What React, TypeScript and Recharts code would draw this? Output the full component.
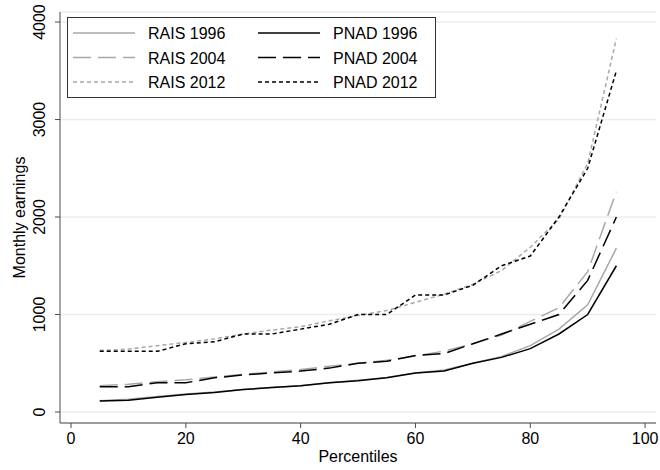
import React from 'react';
import { LineChart, Line, XAxis, YAxis, CartesianGrid, Legend } from 'recharts';

const percentiles = [5, 10, 15, 20, 25, 30, 35, 40, 45, 50, 55, 60, 65, 70, 75, 80, 85, 90, 95];

const rais1996 = [115, 130, 160, 185, 205, 230, 250, 270, 300, 325, 355, 400, 430, 500, 570, 680, 850, 1100, 1680];
const pnad1996 = [112, 120, 150, 180, 200, 230, 250, 270, 300, 320, 350, 400, 420, 500, 560, 650, 800, 1000, 1500];
const rais2004 = [270, 285, 310, 330, 360, 385, 410, 435, 470, 500, 530, 575, 625, 700, 790, 930, 1070, 1440, 2260];
const pnad2004 = [260, 260, 300, 300, 350, 380, 400, 420, 450, 500, 520, 580, 600, 700, 800, 900, 1000, 1350, 2000];
const rais2012 = [630, 645, 680, 713, 750, 800, 840, 875, 935, 990, 1040, 1125, 1210, 1310, 1450, 1690, 1980, 2550, 3830];
const pnad2012 = [622, 622, 622, 700, 720, 800, 800, 850, 900, 1000, 1000, 1200, 1200, 1300, 1500, 1600, 2000, 2500, 3500];

const xTicks = [0, 20, 40, 60, 80, 100];
const yTicks = [0, 1000, 2000, 3000, 4000];

const data = percentiles.map((p, i) => ({
  p,
  rais1996: rais1996[i],
  pnad1996: pnad1996[i],
  rais2004: rais2004[i],
  pnad2004: pnad2004[i],
  rais2012: rais2012[i],
  pnad2012: pnad2012[i],
}));

const FONT = '"Liberation Sans", Arial, sans-serif';
const GRAY = '#a8a8a8';
const AXIS = '#4a4a4a';

// legend order follows the reference (two columns, row by row)
const series = [
  { key: 'rais1996', name: 'RAIS 1996', color: GRAY, dash: undefined },
  { key: 'pnad1996', name: 'PNAD 1996', color: '#000', dash: undefined },
  { key: 'rais2004', name: 'RAIS 2004', color: GRAY, dash: '18 7' },
  { key: 'pnad2004', name: 'PNAD 2004', color: '#000', dash: '18 7' },
  { key: 'rais2012', name: 'RAIS 2012', color: GRAY, dash: '4 3' },
  { key: 'pnad2012', name: 'PNAD 2012', color: '#000', dash: '4 3' },
];

const XTick = (props: any) => {
  const { x, y, payload } = props;
  return (
    <text x={x} y={y + 14} textAnchor="middle" fontSize={16} fontFamily={FONT} fill="#000">
      {payload.value}
    </text>
  );
};

const YTick = (props: any) => {
  const { x, y, payload } = props;
  const bx = x - 8;
  return (
    <text x={bx} y={y} transform={`rotate(-90 ${bx} ${y})`} textAnchor="middle" fontSize={16} fontFamily={FONT} fill="#000">
      {payload.value}
    </text>
  );
};

const renderLegend = () => (
  <svg width={369} height={81} style={{ display: 'block' }}>
    <rect x={0.5} y={0.5} width={368} height={80} fill="#fff" stroke="#333" strokeWidth={1} />
    {series.map((s, i) => {
      const col = i % 2;
      const row = Math.floor(i / 2);
      const cy = 16 + row * 24.5;
      const lx = col === 0 ? 6 : 191;
      const tx = col === 0 ? 81 : 266;
      return (
        <g key={s.key}>
          <line x1={lx} x2={lx + 62} y1={cy} y2={cy} stroke={s.color} strokeWidth={1.5} strokeDasharray={s.dash} />
          <text x={tx} y={cy + 6} fontSize={16} fontFamily={FONT} fill="#000">
            {s.name}
          </text>
        </g>
      );
    })}
  </svg>
);

export default function App() {
  return (
    <div style={{ position: 'absolute', left: 0, top: 0 }}>
      <LineChart width={660} height={470} data={data} margin={{ top: 12, right: 4, bottom: 0, left: 0 }}>
        <CartesianGrid vertical={false} stroke="#e6eff0" strokeWidth={1.5} />
        <XAxis
          dataKey="p"
          type="number"
          domain={[-1.92, 101.9]}
          allowDataOverflow
          ticks={xTicks}
          height={47}
          tickSize={5}
          stroke={AXIS}
          tick={<XTick />}
          label={(props: any) => {
            const vb = props.viewBox || { x: 60, width: 596, y: 423, height: 47 };
            return (
              <text x={vb.x + vb.width / 2} y={vb.y + vb.height - 8} textAnchor="middle" fontSize={16} fontFamily={FONT} fill="#000">
                Percentiles
              </text>
            );
          }}
        />
        <YAxis
          type="number"
          domain={[-113, 4103]}
          allowDataOverflow
          ticks={yTicks}
          width={60}
          tickSize={5}
          stroke={AXIS}
          tick={<YTick />}
          label={(props: any) => {
            const vb = props.viewBox || { x: 0, width: 60, y: 12, height: 411 };
            const cy = vb.y + vb.height / 2;
            return (
              <text x={25} y={cy} transform={`rotate(-90 25 ${cy})`} textAnchor="middle" fontSize={16} fontFamily={FONT} fill="#000">
                Monthly earnings
              </text>
            );
          }}
        />
        <Legend
          layout="horizontal"
          verticalAlign="middle"
          align="center"
          content={renderLegend}
          wrapperStyle={{ position: 'absolute', left: 67, top: 17, width: 369, height: 81 }}
        />
        {series.map((s) => (
          <Line
            key={s.key}
            type="linear"
            dataKey={s.key}
            name={s.name}
            stroke={s.color}
            strokeWidth={1.5}
            strokeDasharray={s.dash}
            dot={false}
            activeDot={false}
            isAnimationActive={false}
          />
        ))}
      </LineChart>
    </div>
  );
}
